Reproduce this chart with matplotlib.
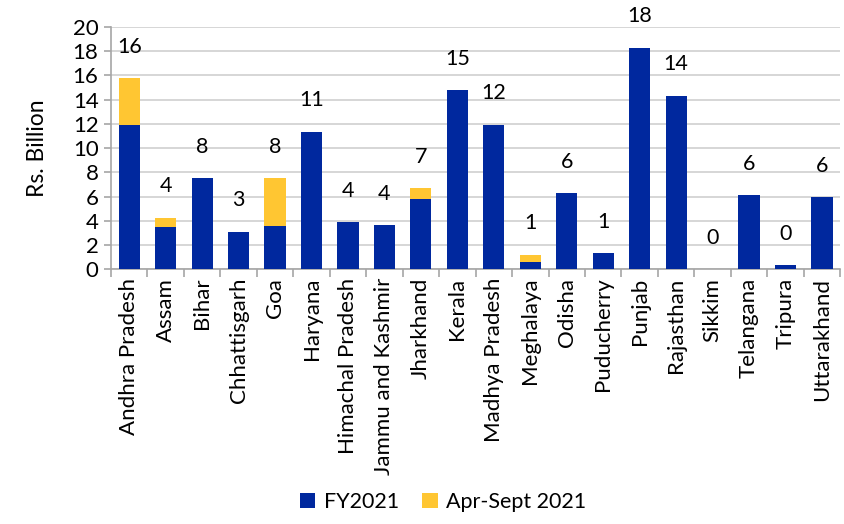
import matplotlib.pyplot as plt
import numpy as np

plt.rcParams['font.family'] = ['Lato', 'DejaVu Sans']

states = ["Andhra Pradesh", "Assam", "Bihar", "Chhattisgarh", "Goa", "Haryana",
          "Himachal Pradesh", "Jammu and Kashmir", "Jharkhand", "Kerala",
          "Madhya Pradesh", "Meghalaya", "Odisha", "Puducherry", "Punjab",
          "Rajasthan", "Sikkim", "Telangana", "Tripura", "Uttarakhand"]
fy2021 = [11.9, 3.5, 7.5, 3.1, 3.55, 11.35, 3.87, 3.65, 5.77, 14.78,
          11.9, 0.6, 6.27, 1.32, 18.27, 14.3, 0.0, 6.1, 0.33, 5.93]
apr_sep = [3.85, 0.75, 0.0, 0.0, 3.95, 0.0, 0.0, 0.0, 0.9, 0.0,
           0.0, 0.58, 0.0, 0.0, 0.0, 0.0, 0.0, 0.0, 0.0, 0.0]

blue = "#00289E"
yellow = "#FFC632"

fig = plt.figure(figsize=(8.44, 5.24), dpi=100)
ax = fig.add_axes([0.1315, 0.486, 0.864, 0.463])

x = np.arange(len(states))
ax.bar(x, fy2021, 0.58, color=blue, label="FY2021", zorder=3)
ax.bar(x, apr_sep, 0.58, bottom=fy2021, color=yellow, label="Apr-Sept 2021", zorder=3)

totals = np.array(fy2021) + np.array(apr_sep)
for xi, t in zip(x, totals):
    ax.text(xi, t + 2.6, f"{t:.0f}", ha="center", va="center", fontsize=15.5)

ax.set_xlim(-0.5, len(states) - 0.5)
ax.set_ylim(0, 20)
ax.set_yticks(range(0, 21, 2))
ax.yaxis.grid(True, color="#D0D0D0", linewidth=1.2, zorder=0)
ax.set_xticks(x)
ax.set_xticklabels(states, rotation=90, fontsize=16)
ax.set_xticks(np.arange(-0.5, len(states), 1), minor=True)
ax.tick_params(axis="x", which="major", length=0, pad=6)
ax.tick_params(axis="x", which="minor", length=6, color="#A6A6A6", width=1.2)
ax.tick_params(axis="y", labelsize=16, length=5, color="#A6A6A6", width=1.2, pad=4)
for s in ["top", "right"]:
    ax.spines[s].set_visible(False)
for s in ["left", "bottom"]:
    ax.spines[s].set_color("#A6A6A6")
    ax.spines[s].set_linewidth(1.2)
ax.set_ylabel("Rs. Billion", fontsize=16.5, labelpad=18)

fig.legend(loc="lower center", bbox_to_anchor=(0.525, -0.015), ncol=2, frameon=False,
           fontsize=15.5, handlelength=0.7, handleheight=0.7, columnspacing=1.1,
           handletextpad=0.4)

fig.savefig("out.png", dpi=100)
